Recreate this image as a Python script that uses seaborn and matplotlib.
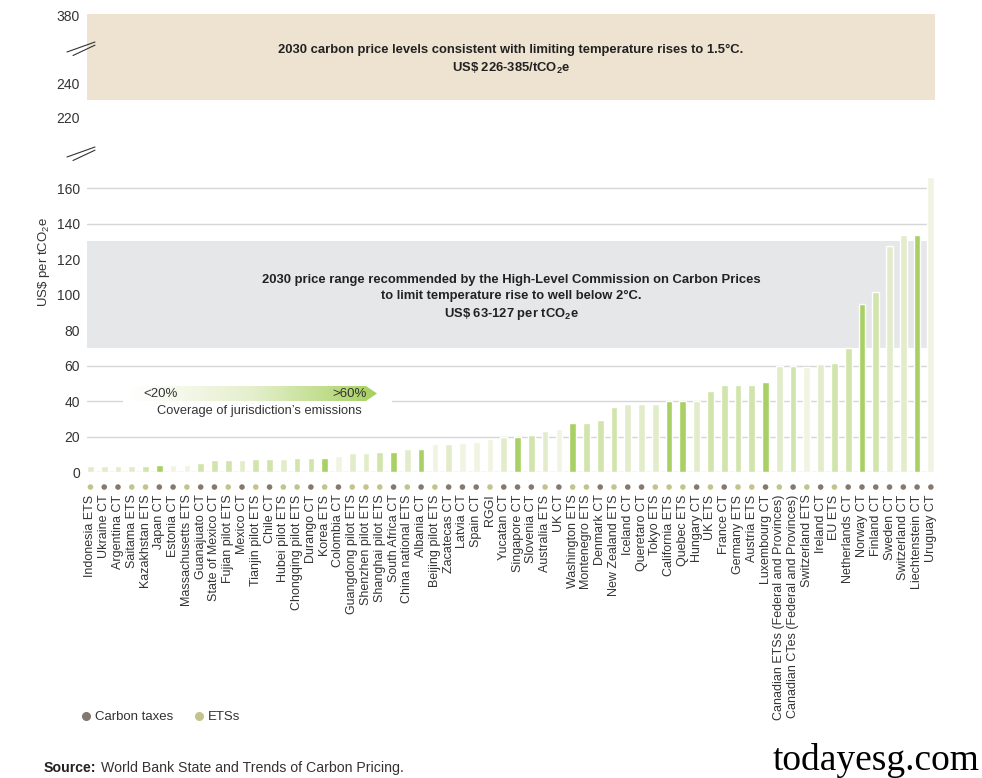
import numpy as np
import pandas as pd
import matplotlib
matplotlib.use("Agg")
import matplotlib.pyplot as plt
from matplotlib.lines import Line2D
from matplotlib.patches import Polygon
import seaborn as sns

# --- data -------------------------------------------------------------
schemes = [
    "Indonesia ETS", "Ukraine CT", "Argentina CT", "Saitama ETS", "Kazakhstan ETS",
    "Japan CT", "Estonia CT", "Massachusetts ETS", "Guanajuato CT", "State of Mexico CT",
    "Fujian pilot ETS", "Mexico CT", "Tianjin pilot ETS", "Chile CT", "Hubei pilot ETS",
    "Chongqing pilot ETS", "Durango CT", "Korea ETS", "Colombia CT", "Guangdong pilot ETS",
    "Shenzhen pilot ETS", "Shanghai pilot ETS", "South Africa CT", "China national ETS",
    "Albania CT", "Beijing pilot ETS", "Zacatecas CT", "Latvia CT", "Spain CT", "RGGI",
    "Yucatan CT", "Singapore CT", "Slovenia CT", "Australia ETS", "UK CT",
    "Washington ETS", "Montenegro ETS", "Denmark CT", "New Zealand ETS", "Iceland CT",
    "Queretaro CT", "Tokyo ETS", "California ETS", "Quebec ETS", "Hungary CT", "UK ETS",
    "France CT", "Germany ETS", "Austria ETS", "Luxembourg CT",
    "Canadian ETSs (Federal and Provinces)", "Canadian CTes (Federal and Provinces)",
    "Switzerland ETS", "Ireland CT", "EU ETS", "Netherlands CT", "Norway CT",
    "Finland CT", "Sweden CT", "Switzerland CT", "Liechtenstein CT", "Uruguay CT",
]
prices = [
    3.7, 3.7, 3.7, 3.7, 3.7, 4.3, 4.3, 4.3, 5.4, 6.9,
    6.9, 6.9, 7.5, 7.5, 7.7, 8.0, 8.0, 8.0, 9.0, 10.7,
    10.7, 11.3, 11.3, 13.3, 13.3, 15.8, 15.8, 16.5, 17.0, 19.0,
    20.0, 20.0, 21.0, 23.4, 24.4, 27.9, 27.9, 29.4, 36.7, 38.6,
    38.6, 38.6, 40.1, 40.1, 40.1, 45.7, 49.1, 49.1, 49.1, 50.8,
    59.7, 59.7, 59.4, 61.0, 61.7, 70.1, 94.9, 101.5, 127.3, 133.4,
    133.4, 166.0,
]
# coverage of jurisdiction's emissions: 0 = lowest ... 3 = >60%
coverage = [
    1, 1, 1, 1, 2, 3, 0, 0, 2, 2,
    2, 1, 2, 2, 1, 2, 2, 3, 0, 1,
    1, 2, 3, 1, 3, 0, 1, 0, 0, 0,
    1, 3, 2, 1, 0, 3, 2, 2, 2, 1,
    1, 1, 3, 3, 1, 2, 2, 2, 2, 3,
    1, 2, 0, 1, 2, 2, 3, 2, 1, 1,
    3, 0,
]
kinds = ["Carbon taxes" if " CT" in s else "ETSs" for s in schemes]

band_15 = (230, 385)   # 2030, 1.5°C
band_2 = (70, 130)     # High-Level Commission range

coverage_colors = {0: "#f1f4e2", 1: "#e2ecca", 2: "#d1e4ac", 3: "#a9d065"}
kind_colors = {"Carbon taxes": "#837970", "ETSs": "#c2c48c"}

df = pd.DataFrame({"scheme": schemes, "price": prices,
                   "coverage": coverage, "kind": kinds})

# --- style ------------------------------------------------------------
sns.set_theme(style="white")
plt.rcParams["font.family"] = ["Liberation Sans", "DejaVu Sans"]
plt.rcParams["mathtext.fontset"] = "custom"
plt.rcParams["mathtext.rm"] = "Liberation Sans"
plt.rcParams["mathtext.bf"] = "Liberation Sans:bold"
plt.rcParams["mathtext.it"] = "Liberation Sans:italic"
TXT = "#333333"

W, H = 982, 778
fig = plt.figure(figsize=(W / 100, H / 100), dpi=100)


def fx(px):
    return px / W


def fy(py):
    return 1 - py / H


ax = fig.add_axes([fx(87), fy(472.3), fx(935) - fx(87), (472.3 - 14) / H])

# broken y axis: piecewise linear scale
V = [-30, 0, 178, 198, 260, 361, 400]
P = [-53.3, 0, 316.3, 317.9, 423.3, 425.0, 490.0]


def fwd(v):
    return np.interp(v, V, P)


def inv(p):
    return np.interp(p, P, V)


sns.barplot(data=df, x="scheme", y="price", hue="coverage", palette=coverage_colors,
            dodge=False, width=0.49, saturation=1, legend=False, ax=ax, zorder=2)
sns.scatterplot(x=df["scheme"], y=np.full(len(df), -8.3), hue=df["kind"],
                palette=kind_colors, s=16, linewidth=0, legend=False,
                clip_on=False, ax=ax, zorder=3)

ax.set_yscale("function", functions=(fwd, inv))
ax.set_ylim(0, 381)
ax.set_xlim(-0.25, 61.3)

ax.axhspan(*band_15, color="#ede3d0", lw=0, zorder=0.6)
ax.axhspan(*band_2, color="#e6e7e9", lw=0, zorder=0.6)

ax.set_yticks(range(0, 161, 20))
ax.set_yticks([220, 240, 380], minor=True)
ax.yaxis.set_minor_formatter(matplotlib.ticker.FixedFormatter(["220", "240", "380"]))
ax.grid(axis="y", which="major", color="#d6d6d6", lw=1, zorder=0.5)
ax.set_axisbelow(True)
for s in ax.spines.values():
    s.set_visible(False)
ax.tick_params(axis="y", which="both", length=0, pad=5, labelsize=10, labelcolor=TXT)
ax.tick_params(axis="x", length=0, pad=16, labelsize=9, labelcolor=TXT, rotation=90)
ax.set_xlabel("")
ax.set_ylabel(r"US\$ per tCO$_2$e", fontsize=9.5, color=TXT)
ax.yaxis.set_label_coords(-0.041, 0.459)

ax.text(0.5, 0.8995, "2030 carbon price levels consistent with limiting temperature rises to 1.5°C.\n"
        r"US\$ 226-385/tCO$_\mathbf{2}$e", transform=ax.transAxes, ha="center", va="center",
        fontsize=9.4, fontweight="bold", color="#222222", linespacing=1.45)
ax.text(0.5, 0.380, "2030 price range recommended by the High-Level Commission on Carbon Prices\n"
        "to limit temperature rise to well below 2°C.\n"
        r"US\$ 63-127 per tCO$_\mathbf{2}$e", transform=ax.transAxes, ha="center", va="center",
        fontsize=9.4, fontweight="bold", color="#222222", linespacing=1.4)

# axis break marks
for y0 in (47, 152):
    for dx, dy in ((0, 0), (6, 3.5)):
        fig.add_artist(Line2D([fx(67 + dx), fx(95)], [fy(y0 + 5 + dy), fy(y0 - 5 + dy * 0.9)],
                              color="#333333", lw=0.8))

# coverage gradient legend
lax = fig.add_axes([fx(123), fy(421), fx(392) - fx(123), (421 - 381) / H])
lax.set_xlim(123, 392)
lax.set_ylim(421, 381)
lax.axis("off")
lax.add_patch(plt.Rectangle((123, 381), 269, 40, color="white", zorder=0))
grad = np.linspace(0, 1, 256).reshape(1, -1)
cmap = matplotlib.colors.LinearSegmentedColormap.from_list("cov", ["#ffffff", "#e4efcc", "#a7d05f"])
im = lax.imshow(grad, extent=(130, 377, 401, 386), aspect="auto", cmap=cmap, zorder=1)
arrow = Polygon([(130, 386), (366, 386), (377, 393.5), (366, 401), (130, 401)],
                closed=True, transform=lax.transData, facecolor="none", edgecolor="none")
lax.add_patch(arrow)
im.set_clip_path(arrow)
lax.text(143, 394, "<20%", fontsize=9.5, color=TXT, va="center", ha="left", zorder=2)
lax.text(367, 394, ">60%", fontsize=9.5, color=TXT, va="center", ha="right", zorder=2)
lax.text(259, 411, "Coverage of jurisdiction’s emissions", fontsize=9.3, color=TXT,
         va="center", ha="center", zorder=2)

# type legend
handles = [Line2D([], [], marker="o", ls="", color=kind_colors[k], markersize=5.5) for k in kind_colors]
fig.legend(handles, list(kind_colors), loc="center left", bbox_to_anchor=(fx(69), fy(717)),
           frameon=False, ncol=2, handlelength=0.8, handletextpad=0.3, columnspacing=1.5,
           fontsize=9.5, labelcolor=TXT)

fig.text(fx(44), fy(768), "Source:", fontsize=10.2, fontweight="bold", color="#222222", va="center")
fig.text(fx(101), fy(768), "World Bank State and Trends of Carbon Pricing.", fontsize=10.2,
         color=TXT, va="center")
fig.text(fx(980), fy(760), "todayesg.com", fontsize=27, family="Liberation Serif",
         color="black", ha="right", va="center")

fig.savefig("out.png", dpi=100)
